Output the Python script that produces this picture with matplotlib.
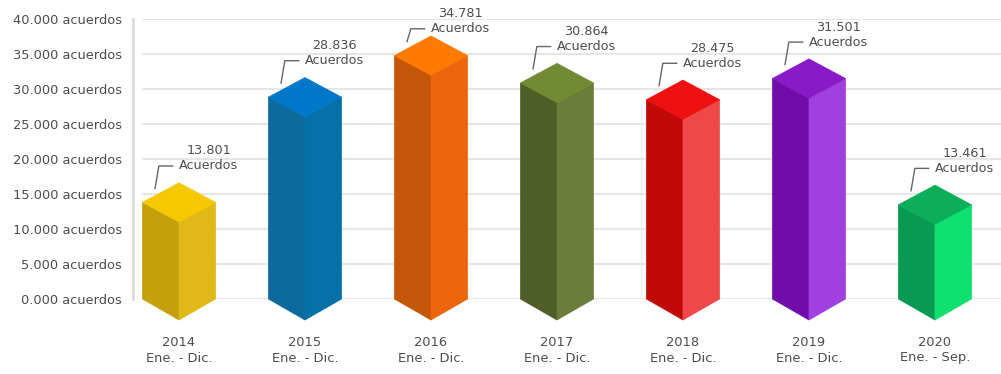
import matplotlib.pyplot as plt
from matplotlib.patches import Polygon

years = ['2014', '2015', '2016', '2017', '2018', '2019', '2020']
periods = ['Ene. - Dic.', 'Ene. - Dic.', 'Ene. - Dic.', 'Ene. - Dic.',
           'Ene. - Dic.', 'Ene. - Dic.', 'Ene. - Sep.']
acuerdos = [13801, 28836, 34781, 30864, 28475, 31501, 13461]
value_labels = ['13.801', '28.836', '34.781', '30.864', '28.475', '31.501', '13.461']
y_ticks = [0, 5000, 10000, 15000, 20000, 25000, 30000, 35000, 40000]

# top, left face, right face
colors = [
    ('#f5c800', '#c4a00c', '#e0b818'),
    ('#0077c8', '#0d6a9e', '#0670a8'),
    ('#ff7a00', '#c4560a', '#ec640c'),
    ('#738a35', '#4e5e26', '#6a7d3a'),
    ('#ee1010', '#c00a0a', '#ef4848'),
    ('#8a1ac8', '#700ca8', '#a040e0'),
    ('#0cae5a', '#089a50', '#10e070'),
]

txt = '#4d4d4d'
plt.rcParams['font.family'] = ['DejaVu Sans']

fig = plt.figure(figsize=(10.01, 3.74), dpi=100)
ax = fig.add_axes([133/1001, (374-299)/374, (1001-133)/1001, (299-19)/374])
ax.set_ylim(0, 40000)
ax.set_xlim(-0.365, 6.524)

for s in ['top', 'right', 'bottom']:
    ax.spines[s].set_visible(False)
ax.spines['left'].set_color('#dcdcdc')
ax.spines['left'].set_linewidth(2)

for t in y_ticks:
    ax.axhline(t, xmin=10/868, xmax=1, color='#e6e6e6', lw=1.5, zorder=0)

ax.set_yticks(y_ticks)
ax.set_yticklabels([f"{t//1000}.{t % 1000:03d} acuerdos" for t in y_ticks],
                   fontsize=9.4, color=txt)
ax.tick_params(axis='y', length=0, pad=8)

ax.set_xticks(range(len(years)))
ax.set_xticklabels([f"{y}\n{p}" for y, p in zip(years, periods)],
                   fontsize=9.4, color=txt, linespacing=1.2)
ax.tick_params(axis='x', length=0, pad=27)

w = 0.29      # half width of bar
d = 2800      # top diamond depth
b = 3000      # bottom depth
for i, v in enumerate(acuerdos):
    top, left, right = colors[i]
    faces = [
        ([(i-w, 0), (i, -b), (i, v-d), (i-w, v)], left),
        ([(i, -b), (i+w, 0), (i+w, v), (i, v-d)], right),
        ([(i-w, v), (i, v+d), (i+w, v), (i, v-d)], top),
    ]
    for pts, c in faces:
        ax.add_patch(Polygon(pts, closed=True, facecolor=c, edgecolor=c,
                             lw=0.5, zorder=3, clip_on=False))

    ya = min(v + 5200, 38600)
    ax.plot([i-0.19, i-0.16, i-0.05], [v + 2000, ya, ya], color='#666666',
            lw=1, zorder=4, clip_on=False)
    ax.text(i+0.235, ya, 'Acuerdos', ha='center', va='center', fontsize=9.2,
            color=txt, zorder=5, clip_on=False)
    ax.text(i+0.235, ya + 2150, value_labels[i], ha='center', va='center',
            fontsize=9.2, color=txt, zorder=5, clip_on=False)

fig.savefig('out.png', dpi=100, facecolor='white')
